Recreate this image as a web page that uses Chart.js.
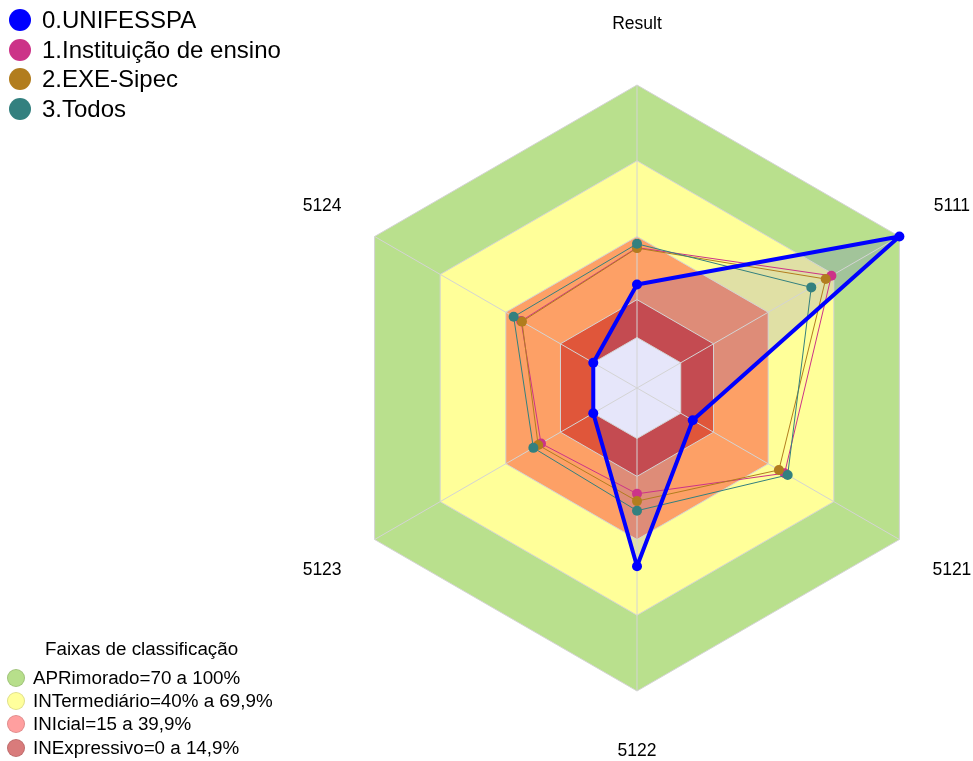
<!DOCTYPE html>
<html>
<head>
<meta charset="utf-8">
<title>Result</title>
<script src="https://cdn.jsdelivr.net/npm/chart.js@4.4.1/dist/chart.umd.min.js"></script>
<style>
  body { margin: 0; background: #fff; font-family: "Liberation Sans", Arial, sans-serif; }
  #wrap { position: relative; width: 973px; height: 761px; overflow: hidden; }
  #chart { position: absolute; left: 0; top: 0; }
  .legend { position: absolute; color: #000; }
  .legend .row { display: flex; align-items: center; white-space: nowrap; }
  .legend .dot { border-radius: 50%; flex: none; box-sizing: border-box; }
  #seriesLegend { left: 9px; top: 5px; font-size: 24px; }
  #seriesLegend .row { height: 29.7px; }
  #seriesLegend .dot { width: 22px; height: 22px; margin-right: 11px; }
  #bandLegend { left: 7px; top: 637px; font-size: 18.8px; }
  #bandLegend .title { height: 24px; line-height: 24px; padding-left: 38px; margin-bottom: 5px; }
  #bandLegend .row { height: 23.4px; }
  #bandLegend .dot { width: 18px; height: 18px; margin-right: 8px; border: 1px solid rgba(0,0,0,0.12); }
</style>
</head>
<body>
<div id="wrap">
  <canvas id="chart" width="973" height="761"></canvas>
  <div id="seriesLegend" class="legend"></div>
  <div id="bandLegend" class="legend"><div class="title">Faixas de classificação</div></div>
</div>
<script>
// axes (top one first, then clockwise)
const axisLabels = ['Result', '5111', '5121', '5122', '5123', '5124'];

// series
const seriesNames = ['0.UNIFESSPA', '1.Instituição de ensino', '2.EXE-Sipec', '3.Todos'];
const seriesColors = ['#0000FF', '#CC3388', '#B27D1E', '#33807F'];
const unifesspa = [21, 100, 5.5, 50.6, 0, 0];
const instituicao = [35.6, 68.9, 47.5, 21.9, 23.9, 33];
const exeSipec = [35.4, 66.3, 44.9, 24.8, 25.2, 32.6];
const todos = [37.1, 59.7, 48.9, 28.6, 27.4, 36.4];

// classification bands
const bandNames = ['APRimorado=70 a 100%', 'INTermediário=40% a 69,9%', 'INIcial=15 a 39,9%', 'INExpressivo=0 a 14,9%'];
const bandLimits = [100, 70, 40, 15];
const bandFills = ['#B9E08D', '#FFFF99', '#FDA066', '#E0563A'];
const bandLegendColors = ['#B7DF8B', '#FFFF9C', '#FF9F9F', '#D97B7B'];
const scaleMin = -20;
const scaleMax = 100;
const gridTicks = [-20, 0, 15, 40, 70, 100];

const allSeries = [unifesspa, instituicao, exeSipec, todos];
const full = (v) => axisLabels.map(() => v);

// background bands, drawn underneath everything
const datasets = bandLimits.map((lim, i) => ({
  label: bandNames[i],
  data: full(lim),
  backgroundColor: bandFills[i],
  borderWidth: 0,
  pointRadius: 0,
  fill: 'start',
  order: 20 - i
}));

// translucent area of the first series (under the centre hexagon)
datasets.push({
  label: 'fill ' + seriesNames[0],
  data: unifesspa,
  backgroundColor: 'rgba(0,0,255,0.12)',
  borderWidth: 0,
  pointRadius: 0,
  fill: 'start',
  order: 12
});

// centre area below zero
datasets.push({
  label: 'centro',
  data: full(0),
  backgroundColor: '#E6E6FA',
  borderWidth: 0,
  pointRadius: 0,
  fill: 'start',
  order: 11
});

allSeries.forEach((vals, i) => {
  datasets.push({
    label: seriesNames[i],
    data: vals,
    borderColor: seriesColors[i],
    backgroundColor: seriesColors[i],
    pointBackgroundColor: seriesColors[i],
    pointBorderWidth: 0,
    pointRadius: 5,
    borderWidth: i === 0 ? 4 : 1,
    borderJoinStyle: 'round',
    fill: false,
    order: i === 0 ? 0 : 4 - i
  });
});

// axis names centred at 1.2 x the outer radius
const axisLabelPlugin = {
  id: 'axisLabels',
  afterDraw(chart) {
    const scale = chart.scales.r;
    const ctx = chart.ctx;
    ctx.save();
    ctx.font = '17.5px "Liberation Sans", Arial, sans-serif';
    ctx.fillStyle = '#000';
    ctx.textAlign = 'center';
    ctx.textBaseline = 'middle';
    axisLabels.forEach((lab, i) => {
      const p = scale.getPointPosition(i, scale.drawingArea * 1.2);
      ctx.fillText(lab, p.x, p.y);
    });
    ctx.restore();
  }
};

new Chart(document.getElementById('chart'), {
  type: 'radar',
  data: { labels: axisLabels, datasets: datasets },
  options: {
    responsive: false,
    animation: false,
    layout: { padding: { left: 334, top: 85, right: 33, bottom: 70 } },
    elements: { line: { tension: 0 } },
    plugins: {
      legend: { display: false },
      tooltip: { enabled: false },
      // all areas first, then the grid, then lines and points
      filler: { drawTime: 'beforeDraw' }
    },
    scales: {
      r: {
        min: scaleMin,
        max: scaleMax,
        afterBuildTicks: (scale) => {
          scale.ticks = gridTicks.map(v => ({ value: v }));
        },
        ticks: { display: false },
        pointLabels: { display: false },
        grid: { color: '#D4D4D4', lineWidth: 1 },
        angleLines: { color: '#D4D4D4', lineWidth: 1 }
      }
    }
  },
  plugins: [axisLabelPlugin]
});

// legends
const seriesLegend = document.getElementById('seriesLegend');
seriesNames.forEach((name, i) => {
  const row = document.createElement('div');
  row.className = 'row';
  row.innerHTML = '<span class="dot" style="background:' + seriesColors[i] + '"></span><span>' + name + '</span>';
  seriesLegend.appendChild(row);
});
const bandLegend = document.getElementById('bandLegend');
bandNames.forEach((name, i) => {
  const row = document.createElement('div');
  row.className = 'row';
  row.innerHTML = '<span class="dot" style="background:' + bandLegendColors[i] + '"></span><span>' + name + '</span>';
  bandLegend.appendChild(row);
});
</script>
</body>
</html>
